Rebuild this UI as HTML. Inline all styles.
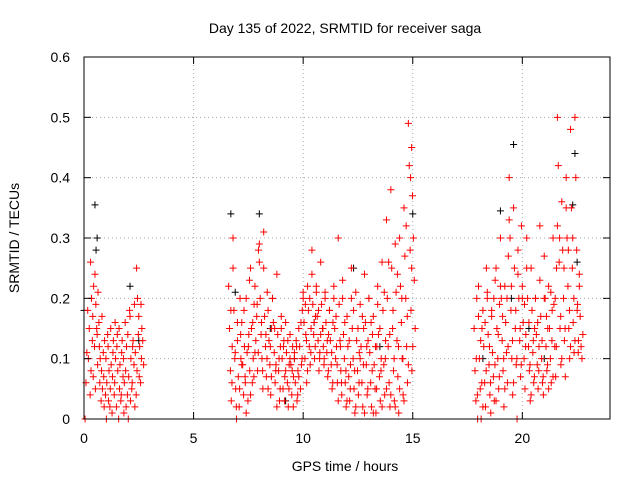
<!DOCTYPE html>
<html><head><meta charset="utf-8"><style>
body{margin:0;background:#fff}
svg{font-family:"Liberation Sans",sans-serif;font-size:14px}
</style></head><body>
<svg width="640" height="480">
<text x="345" y="33" text-anchor="middle">Day 135 of 2022, SRMTID for receiver saga</text>
<text transform="translate(19,238) rotate(-90)" text-anchor="middle">SRMTID / TECUs</text>
<text x="345" y="471" text-anchor="middle">GPS time / hours</text>
<g id="grid"></g><g id="marks"></g>
<rect x="84" y="57" width="526" height="362" fill="none" stroke="#000"/>
<g id="ticks"></g>
</svg>
<script>
const xTicks=[0,5,10,15,20];
const yTicks=[0,0.1,0.2,0.3,0.4,0.5,0.6];
const yTickLabels=["0","0.1","0.2","0.3","0.4","0.5","0.6"];
const redT=[0.05,0.2,0.3,0.4,0.5,0.6,0.7,0.8,0.9,1.0,1.1,1.2,1.3,1.4,1.5,1.6,1.7,1.8,1.9,2.0,2.1,2.2,2.3,2.4,2.5,2.6,
6.6,6.8,7.0,7.2,7.4,7.6,7.8,8.0,8.2,8.4,8.6,8.8,9.0,9.2,9.4,9.6,9.8,10.0,10.2,10.4,10.6,10.8,11.0,11.2,11.4,11.6,11.8,12.0,12.2,12.4,12.6,12.8,13.0,13.2,13.4,13.6,13.8,14.0,14.2,14.4,14.6,14.8,14.95,
17.8,18.0,18.2,18.4,18.6,18.8,19.0,19.2,19.4,19.6,19.8,20.0,20.2,20.4,20.6,20.8,21.0,21.2,21.4,21.6,21.8,22.0,22.2,22.4,22.6];
const redV=[[0.0,0.06,0.11,0.18],[0.1,0.15,0.04,0.08],[0.26,0.2,0.13,0.07],[0.17,0.22,0.12,0.05],[0.24,0.19,0.15,0.09],[0.14,0.21,0.16,0.06],[0.12,0.1,0.03,0.17],[0.08,0.05,0.11,0.02],[0.07,0.13,0.04,0.0],[0.1,0.06,0.14,0.03],[0.12,0.08,0.02,0.15],[0.05,0.09,0.01,0.11],[0.07,0.13,0.04,0.16],[0.06,0.1,0.02,0.14],[0.12,0.08,0.0,0.05],[0.15,0.09,0.03,0.11],[0.04,0.13,0.07,0.01],[0.1,0.06,0.16,0.02],[0.08,0.12,0.04,0.0],[0.14,0.07,0.18,0.03],[0.17,0.1,0.05,0.12],[0.06,0.13,0.09,0.02],[0.19,0.11,0.04,0.08],[0.25,0.2,0.14,0.07],[0.17,0.12,0.06,0.1],[0.19,0.15,0.13,0.09],
[0.22,0.15,0.08,0.03,0.12],[0.3,0.18,0.1,0.05,0.0],[0.13,0.07,0.02,0.2,0.1],[0.16,0.09,0.04,0.12,0.06],[0.2,0.11,0.03,0.14,0.08],[0.25,0.15,0.06,0.1,0.19],[0.22,0.13,0.17,0.08,0.28],[0.29,0.2,0.14,0.1,0.05],[0.25,0.17,0.12,0.07,0.21],[0.18,0.13,0.09,0.04,0.15],[0.2,0.16,0.11,0.06,0.09],[0.24,0.14,0.08,0.03,0.12],[0.15,0.1,0.05,0.13,0.07],[0.16,0.11,0.06,0.02,0.09],[0.14,0.09,0.04,0.12,0.07],[0.1,0.06,0.13,0.03,0.08],[0.15,0.12,0.05,0.09,0.18],[0.2,0.16,0.1,0.14,0.06],[0.22,0.18,0.12,0.09,0.15],[0.28,0.19,0.14,0.1,0.17],[0.21,0.17,0.13,0.08,0.11],[0.26,0.19,0.15,0.12,0.1],[0.2,0.16,0.11,0.07,0.14],[0.18,0.13,0.09,0.05,0.16],[0.22,0.15,0.1,0.12,0.06],[0.3,0.19,0.13,0.08,0.04],[0.2,0.14,0.1,0.06,0.02],[0.17,0.12,0.07,0.03,0.09],[0.25,0.15,0.1,0.05,0.01],[0.21,0.13,0.08,0.04,0.11],[0.19,0.12,0.06,0.02,0.15],[0.24,0.16,0.09,0.04,0.13],[0.2,0.11,0.06,0.02,0.14],[0.17,0.09,0.05,0.01,0.12],[0.22,0.14,0.07,0.03,0.1],[0.26,0.18,0.09,0.04,0.13],[0.33,0.2,0.12,0.06,0.02],[0.38,0.25,0.15,0.08,0.03],[0.29,0.21,0.13,0.07,0.01],[0.3,0.22,0.16,0.1,0.04],[0.35,0.27,0.2,0.12,0.06],[0.49,0.42,0.28,0.18,0.08],[0.45,0.37,0.3,0.23,0.15],
[0.15,0.08,0.03,0.2,0.0],[0.22,0.1,0.05,0.0,0.15],[0.18,0.12,0.06,0.02,0.25],[0.2,0.14,0.09,0.04,0.01],[0.17,0.11,0.07,0.03,0.23],[0.25,0.15,0.1,0.05,0.19],[0.3,0.2,0.13,0.08,0.02],[0.22,0.16,0.11,0.06,0.27],[0.4,0.3,0.18,0.1,0.04],[0.35,0.25,0.15,0.09,0.0],[0.28,0.2,0.13,0.07,0.32],[0.22,0.16,0.1,0.05,0.14],[0.3,0.2,0.12,0.08,0.03],[0.25,0.18,0.11,0.06,0.15],[0.2,0.14,0.09,0.05,0.12],[0.32,0.17,0.1,0.06,0.04],[0.27,0.2,0.12,0.08,0.15],[0.22,0.15,0.1,0.06,0.18],[0.3,0.19,0.12,0.07,0.25],[0.5,0.42,0.26,0.15,0.09],[0.36,0.28,0.2,0.13,0.07],[0.4,0.3,0.22,0.15,0.1],[0.48,0.35,0.25,0.16,0.11],[0.5,0.4,0.28,0.19,0.13],[0.22,0.17,0.12,0.1,0.14]];
const redT2=[6.7,6.9,7.1,7.3,7.5,7.7,7.9,8.1,8.3,8.5,8.7,8.9,9.1,9.3,9.5,9.7,9.9,10.1,10.3,10.5,10.7,10.9,11.1,11.3,11.5,11.7,11.9,12.1,12.3,12.5,12.7,12.9,13.1,13.3,13.5,13.7,13.9,14.1,14.3,14.5,14.7,14.9,
17.9,18.1,18.3,18.5,18.7,18.9,19.1,19.3,19.5,19.7,19.9,20.1,20.3,20.5,20.7,20.9,21.1,21.3,21.5,21.7,21.9,22.1,22.3,22.5];
const redV2=[[0.18,0.06,0.25],[0.11,0.02,0.16],[0.05,0.14,0.09],[0.18,0.07,0.01],[0.12,0.23,0.04],[0.16,0.07,0.11],[0.19,0.11,0.26],[0.16,0.08,0.31],[0.14,0.1,0.05],[0.12,0.07,0.2],[0.15,0.08,0.02],[0.1,0.05,0.17],[0.12,0.03,0.08],[0.13,0.05,0.1],[0.08,0.02,0.11],[0.12,0.04,0.07],[0.16,0.1,0.21],[0.19,0.13,0.08],[0.2,0.11,0.24],[0.16,0.12,0.22],[0.18,0.1,0.14],[0.15,0.09,0.21],[0.13,0.08,0.18],[0.11,0.06,0.2],[0.17,0.09,0.03],[0.12,0.06,0.23],[0.16,0.08,0.03],[0.13,0.05,0.2],[0.18,0.08,0.02],[0.15,0.06,0.1],[0.17,0.09,0.01],[0.12,0.05,0.2],[0.16,0.08,0.01],[0.12,0.05,0.19],[0.15,0.08,0.02],[0.21,0.1,0.05],[0.26,0.14,0.04],[0.18,0.1,0.02],[0.24,0.12,0.05],[0.2,0.1,0.03],[0.32,0.17,0.09],[0.4,0.25,0.12],
[0.1,0.04,0.17],[0.13,0.06,0.02],[0.16,0.08,0.21],[0.12,0.06,0.18],[0.2,0.09,0.03],[0.14,0.07,0.22],[0.17,0.1,0.05],[0.2,0.12,0.33],[0.22,0.13,0.06],[0.18,0.1,0.24],[0.15,0.09,0.2],[0.19,0.12,0.25],[0.16,0.09,0.04],[0.13,0.07,0.2],[0.16,0.08,0.23],[0.13,0.07,0.2],[0.17,0.09,0.05],[0.21,0.13,0.07],[0.2,0.12,0.32],[0.3,0.17,0.1],[0.25,0.15,0.35],[0.28,0.18,0.12],[0.3,0.2,0.13],[0.18,0.11,0.24]];
const blackT=[0.0,0.5,0.55,0.6,2.1,2.5,6.7,6.9,8.0,8.5,9.2,9.6,10.5,12.3,13.5,15.0,18.2,19.0,19.5,19.6,20.3,21.0,22.3,22.4,22.5];
const blackV=[0.18,0.355,0.28,0.3,0.22,0.13,0.34,0.21,0.34,0.15,0.03,0.1,0.16,0.25,0.12,0.34,0.1,0.345,0.2,0.455,0.15,0.1,0.355,0.44,0.26];
const X=t=>84+t*526/24, Y=v=>419-v*362/0.6;
const NS="http://www.w3.org/2000/svg";
const grid=document.getElementById('grid'),marks=document.getElementById('marks'),ticks=document.getElementById('ticks');
function mk(p,tag,a){const e=document.createElementNS(NS,tag);for(const k in a)e.setAttribute(k,a[k]);p.appendChild(e);return e;}
xTicks.forEach(t=>{
 const g=mk(grid,'line',{x1:X(t),x2:X(t),y1:57,y2:419,stroke:'#aaa','stroke-dasharray':'1,3'});
 
 
 mk(ticks,'line',{x1:X(t),x2:X(t),y1:419,y2:412,stroke:'#000'});
 mk(ticks,'line',{x1:X(t),x2:X(t),y1:57,y2:64,stroke:'#000'});
 const l=mk(ticks,'text',{x:X(t),y:443,'text-anchor':'middle'});l.textContent=t;
 
 
});
yTicks.forEach((v,i)=>{
 const g=mk(grid,'line',{x1:84,x2:610,y1:Y(v),y2:Y(v),stroke:'#aaa','stroke-dasharray':'1,3'});
 
 
 mk(ticks,'line',{x1:84,x2:91,y1:Y(v),y2:Y(v),stroke:'#000'});
 mk(ticks,'line',{x1:603,x2:610,y1:Y(v),y2:Y(v),stroke:'#000'});
 const l=mk(ticks,'text',{x:70,y:Y(v)+5,'text-anchor':'end'});l.textContent=yTickLabels[i];
 
 
});
function cross(x,y,c,name){
 const p=mk(marks,'path',{d:`M${x-3.5},${y}h7M${x},${y-3.5}v7`,stroke:c,'stroke-width':1,fill:'none'});
 
 
}
blackT.forEach((t,i)=>cross(X(t),Y(blackV[i]),'#000','black-point'));
redT.forEach((t,i)=>redV[i].forEach((v,j)=>cross(X(t+j*0.04),Y(v),'#f00','red-point')));
redT2.forEach((t,i)=>redV2[i].forEach((v,j)=>cross(X(t+j*0.05),Y(v),'#f00','red-point')));
</script>
</body></html>
